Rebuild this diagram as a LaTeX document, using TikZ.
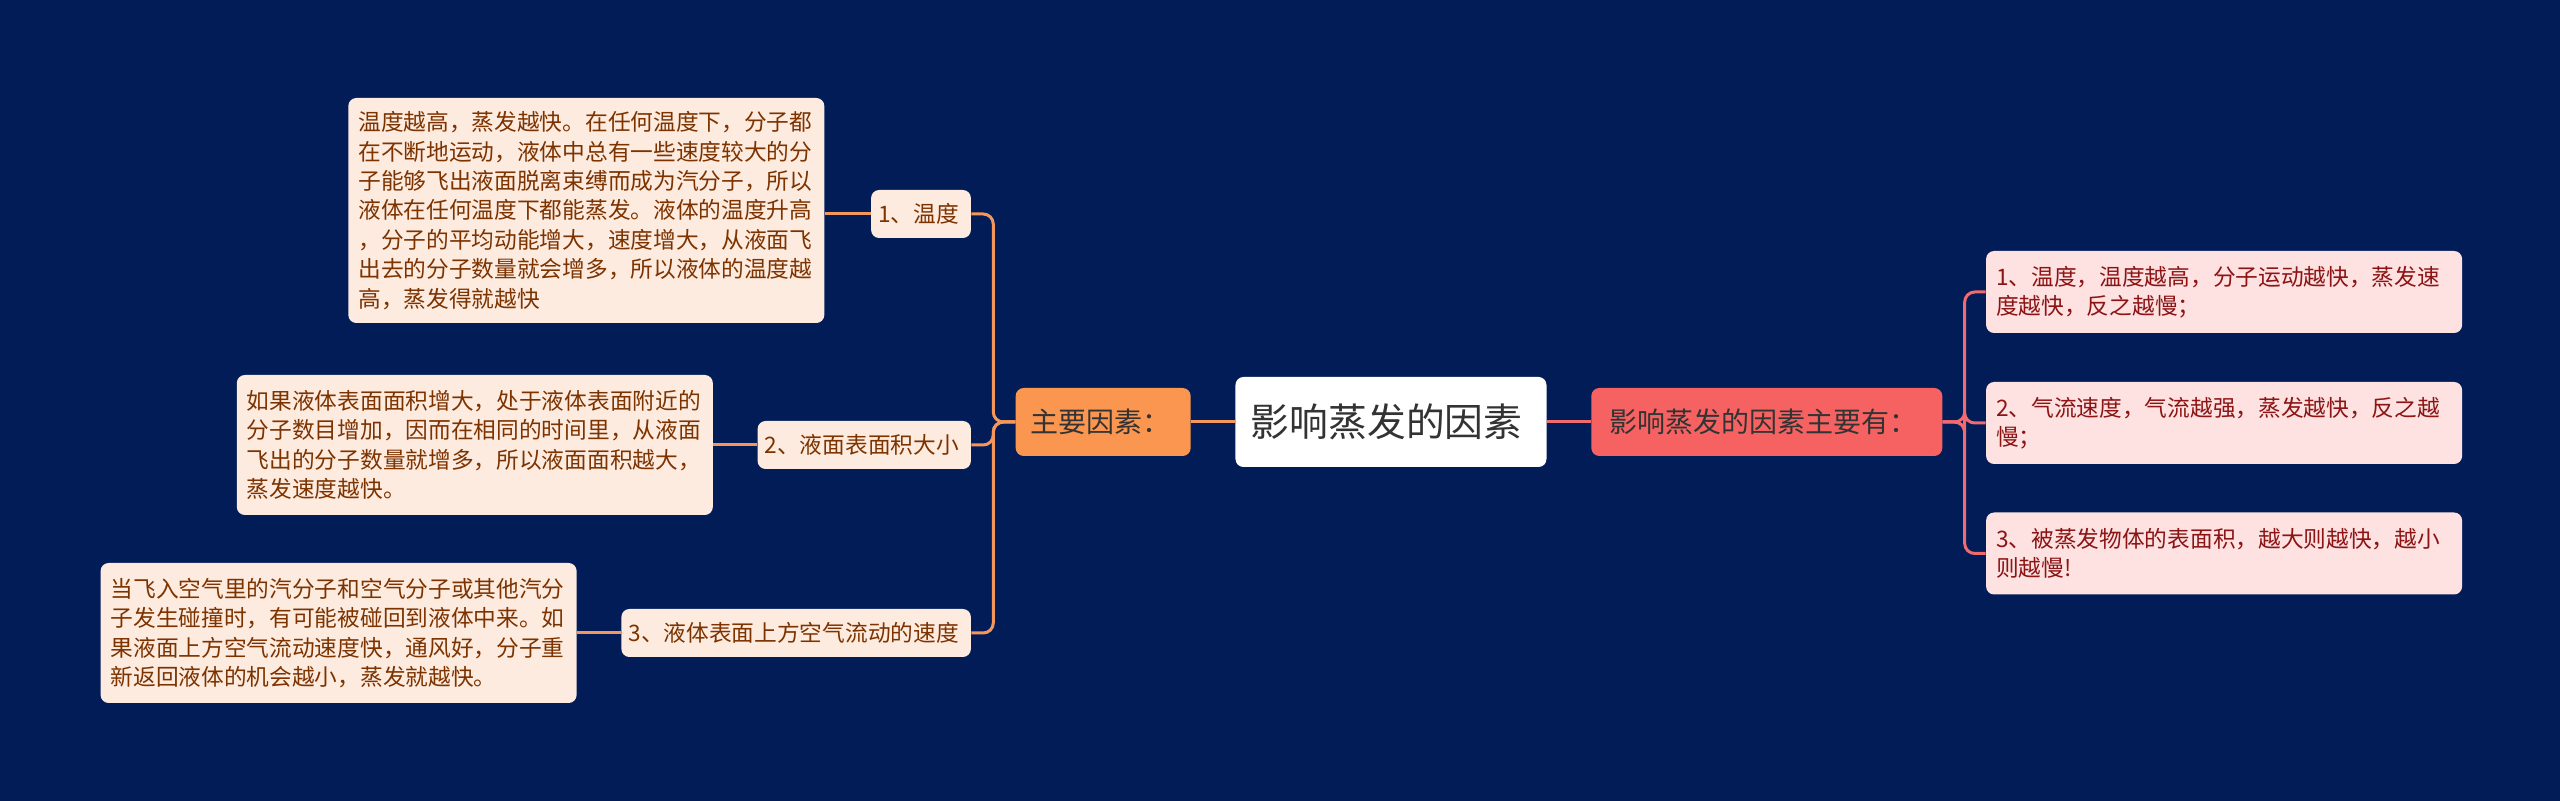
\documentclass[tikz,border=0pt]{standalone}
\usepackage{fontspec}
\setmainfont{Noto Sans CJK SC}
\usepackage{xcolor}
\usepackage{tikz}
\usetikzlibrary{
  positioning
}
\definecolor{BgNavy}{HTML}{011C57}
\definecolor{MainOrange}{HTML}{FA9650}
\definecolor{LeafPeach}{HTML}{FEEBDF}
\definecolor{TextBrown}{HTML}{7D3300}
\definecolor{LineOrange}{HTML}{F5965A}
\definecolor{SideRed}{HTML}{F66262}
\definecolor{LeafPink}{HTML}{FEE1E1}
\definecolor{TextRed}{HTML}{8C1414}
\definecolor{LineRed}{HTML}{F06A6E}
\definecolor{DarkText}{HTML}{333333}
\newcommand{\leaffont}{\fontsize{11.35pt}{14.7pt}\selectfont}
\tikzset{
  box/.style={
    rounded corners=4pt,
    align=left,
    inner ysep=0pt
  },
  rootbox/.style={
    box,
    fill=white,
    text=DarkText,
    align=center,
    font=\fontsize{19.4pt}{23pt}\selectfont,
    minimum width=155.5pt,
    minimum height=45pt
  },
  mainbox/.style={
    box,
    fill=MainOrange,
    text=DarkText,
    font=\fontsize{14pt}{17pt}\selectfont,
    minimum width=87.5pt,
    minimum height=34pt
  },
  sidebox/.style={
    box,
    fill=SideRed,
    text=DarkText,
    font=\fontsize{14pt}{17pt}\selectfont,
    minimum width=175.5pt,
    minimum height=34pt
  },
  topicbox/.style={
    box,
    fill=LeafPeach,
    text=TextBrown,
    font=\leaffont,
    inner xsep=3.5pt,
    minimum height=24pt
  },
  detailbox/.style={
    box,
    fill=LeafPeach,
    text=TextBrown,
    font=\leaffont,
    text width=228pt,
    inner xsep=5pt
  },
  factbox/.style={
    box,
    fill=LeafPink,
    text=TextRed,
    font=\leaffont,
    text width=228pt,
    inner xsep=5pt,
    minimum height=41pt
  },
  branch/.style={
    draw=LineOrange,
    line width=1.5pt,
    rounded corners=5pt
  },
  twig/.style={
    draw=LineRed,
    line width=1.5pt,
    rounded corners=5pt
  }
}
\begin{document}
\begin{tikzpicture}

  % background
  \fill[BgNavy] (-695.5pt,-189.5pt) rectangle (584.5pt,211pt);
  \useasboundingbox (-695.5pt,-189.5pt) rectangle (584.5pt,211pt);

  \node[rootbox] (root) at (0,0) {
    影响蒸发的因素
  };

  \node[
    mainbox,
    left=22pt of root
  ] (main) {
    主要因素：
  };

  \node[
    sidebox,
    right=22pt of root
  ] (side) {
    影响蒸发的因素主要有：
  };

  % left branch
  \node[
    topicbox,
    left=22pt of main,
    yshift=104pt
  ] (temp) {
    1、温度
  };

  \node[
    topicbox,
    left=22pt of main,
    yshift=-11.5pt
  ] (area) {
    2、液面表面积大小
  };

  \node[
    topicbox,
    left=22pt of main,
    yshift=-105.5pt
  ] (wind) {
    3、液体表面上方空气流动的速度
  };

  \node[
    detailbox,
    minimum height=112.5pt,
    left=23pt of temp,
    yshift=1.75pt
  ] (tempnote) {
    温度越高，蒸发越快。在任何温度下，分子都\\
    在不断地运动，液体中总有一些速度较大的分\\
    子能够飞出液面脱离束缚而成为汽分子，所以\\
    液体在任何温度下都能蒸发。液体的温度升高\\
    ，分子的平均动能增大，速度增大，从液面飞\\
    出去的分子数量就会增多，所以液体的温度越\\
    高，蒸发得就越快
  };

  \node[
    detailbox,
    minimum height=70pt,
    left=22pt of area
  ] (areanote) {
    如果液体表面面积增大，处于液体表面附近的\\
    分子数目增加，因而在相同的时间里，从液面\\
    飞出的分子数量就增多，所以液面面积越大，\\
    蒸发速度越快。
  };

  \node[
    detailbox,
    minimum height=70pt,
    left=22pt of wind
  ] (windnote) {
    当飞入空气里的汽分子和空气分子或其他汽分\\
    子发生碰撞时，有可能被碰回到液体中来。如\\
    果液面上方空气流动速度快，通风好，分子重\\
    新返回液体的机会越小，蒸发就越快。
  };

  % right branch
  \node[
    factbox,
    right=21.5pt of side,
    yshift=65pt
  ] (fact1) {
    1、温度，温度越高，分子运动越快，蒸发速\\
    度越快，反之越慢；
  };

  \node[
    factbox,
    right=21.5pt of side,
    yshift=-0.5pt
  ] (fact2) {
    2、气流速度，气流越强，蒸发越快，反之越\\
    慢；
  };

  \node[
    factbox,
    right=21.5pt of side,
    yshift=-65.75pt
  ] (fact3) {
    3、被蒸发物体的表面积，越大则越快，越小\\
    则越慢!
  };

  % connectors
  \draw[branch] (root.west) -- (main.east);
  \draw[twig] (root.east) -- (side.west);

  \draw[branch] (main.west) -- ++(-11pt,0) |- (temp.east);
  \draw[branch] (main.west) -- ++(-11pt,0) |- (area.east);
  \draw[branch] (main.west) -- ++(-11pt,0) |- (wind.east);

  \draw[branch] (temp.west) -- (tempnote.east |- temp.west);
  \draw[branch] (area.west) -- (areanote.east |- area.west);
  \draw[branch] (wind.west) -- (windnote.east |- wind.west);

  \draw[twig] (side.east) -- ++(11pt,0) |- (fact1.west);
  \draw[twig] (side.east) -- ++(11pt,0) |- (fact2.west);
  \draw[twig] (side.east) -- ++(11pt,0) |- (fact3.west);

\end{tikzpicture}
\end{document}
